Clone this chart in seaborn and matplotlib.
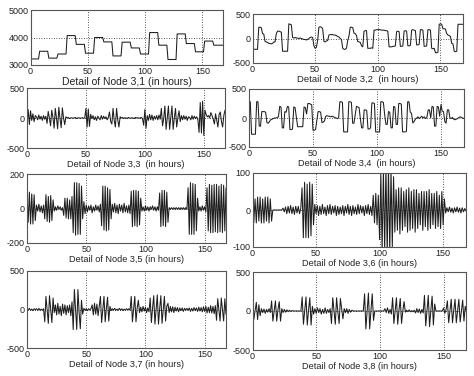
import numpy as np
import pandas as pd
import matplotlib
matplotlib.use("Agg")
import matplotlib.pyplot as plt
import seaborn as sns

# ---------------- data (hourly values) ----------------
node31 = [3220] * 8 + [3500] * 8 + [3250] * 8 + [3400] * 8 + [4070] * 8 + [3750] * 8 + \
         [3430] * 8 + [4000] * 8 + [3840] * 8 + [3330] * 8 + [3830] * 8 + [3620] * 8 + \
         [3400] * 8 + [4180] * 8 + [3720] * 8 + [3200] * 8 + [4130] * 8 + [3780] * 8 + \
         [3480] * 8 + [3870] * 8 + [3720] * 9

node32 = [-220, -220, -220, -220, -220, 230, 230, 220, 100, 90,
          -60, -70, -80, -100, -100, -110, -100, -70, -70,
          100, 150, 150, 140, 130, -260, -260, -260, -260, -260,
          300, 290, 280, 20, 10, 20, 10, 10, 0, 10, 0, -10, -20,
          -20, -30, -20, 0, 20, 30, 20, -150, -200, -180, -40,
          230, 240, 230, 200, -60, -70, -50, -40,
          70, 80, 80, 80, 70, 70, 60, 40, 30, 0, -20,
          -200, -220, -220, -200, -40, 50, 230, 230, 220, 110, 100, 60,
          -60, -70, -80, -150, -170, 150, 160, 160,
          -200, -200, -200, -190, -200,
          170, 170, 180, 180, 180, 180, 170, 170, 170, 160, 160, 150,
          -170, -170, -170, -160, -160, -150, 140, 150, 140,
          -160, -160, -150, 150, 160, 150, -150, -150, -140,
          170, 180, 170, 160, -130, -130, -120, 180, 180, 170,
          -160, -160, -150, 180, 180, 170, -200, -210, -200,
          -290, -290, -280, 290, 300, 290, 200, 200, 190, 100,
          70, 60, 40, -100, -110, -260, -270, -260, 290, 290, 290, 290, 290]

node33 = [-120, 140, -110, 120, -40, 70, -60, 40, 20, -30, 50, -20, 30, -40, 40, -20, 30,
          -90, 110, 0, -130, 130, 10, -170, 160, 0, -180, 180, -10, -160, 170, 0, -110,
          20, 0, 10, -10, 0, 5, -5, 0, 10, -10, 0, 5, -5, 0, 5, -5, 0,
          160, -150, 150, -140, 60, -10,
          40, -30, 20, -40, 30, 0, -30, 40, -20, 30, -10, 20, -30, 10,
          100, -60, -100, 160, -40, -150, 160, -30, -150, 20,
          0, 10, -10, 5, 0, -10, 10, 0, -5, 5, 0, -10, 10, 0, 5, -5, 0, 10, -10,
          -120, 140, -170, 40,
          -40, 60, -30, 50, -40, 30, -20, 40, -30, 50, -20,
          160, -130, -10, 200, -190, 0, 200, -190, 10, 200, -190, 0, 160, -150, 0, 120, -60, 40,
          -30, 40, -20, 30, -40, 20, 10, -30, 40, -20, 30, -10, 20, -30,
          -240, 260, -250, 280, -290, 130,
          60, 20, 40,
          0, 90, 40, -20, -100, 70, -40, -150, 60, 100, -60, -150, 40, 130]

node34 = [280, 280, -280, -280, -280, -280, 280, 280, -140, -140,
          110, 110, 110, 100, -80, -90, -60, -30, -20, -10,
          0, 0, 10, 20, 200, 190, -170, -170, 110, 100,
          200, 190, -200, -200, -190, 190, 180, 20, -150, -150,
          -150, -150, -150, 190, 180, 70, 250, 250, 240, 230,
          -210, -210, -200, -50, 110, 110, 100, -80, -70, -50,
          30, 40, 30, 30, 20, 30, 20, 10, 0, -10,
          0, 280, 280, 270, -240, -240, -240, -240, 280, 280,
          270, -90, -90, 60, 200, 190, 180, -10, -170, -170,
          140, 140, 130, -190, -190, -170, 260, 260, 250, -240,
          -240, -240, -240, 280, 280, 270, 60, -110, -110, 110,
          100, -170, -170, 200, 190, -110, -110, 250, 250, 240,
          -240, -240, -240, -230, 280, 280, 100, 80, -85, -60,
          -20, 0, 20, -10, 10, 30, 0, 20, -10, 10,
          140, 140, 0, 200, 190, -140, -140, 200, 190, 30,
          230, 120, 110, -60, -90, 140, 140, 0, -10, 10,
          -20, -30, -20, -10, 10, 20, 10, 0, -10]

node35 = [90, -80, 95, -90, 85, -90, 80, -70,
          20, -15, 25, -20, 15, -25, 20,
          -60, 80, -75, 70, -80, 75, -70, 50,
          -15, 10, -10, 15, -5, 10, -10, 5,
          -40, 60, -55, 60, -60, 50, -60, 70,
          -140, 150, -155, 150, -150, 145, -150, 130,
          -60, 40, -30, 20,
          -20, 15, -10, 20, -25, 10, -15, 20, -10, 15, -20, 25,
          -100, 130, -125, 130, -130, 120, -125, 110, -60,
          25, -20, 30, -25, 20, -30, 25, -15, 20, -25, 30, -20, 15, -25, 20, -30,
          100, -105, 105, -100, 105, -105, 100, -95, 60,
          -15, 10, -15, 15, -10, 10, -15, 10, -5, 15, -10, 10, -15, 10, -10,
          90, -105, 105, -100, 105, -105, 95, -80,
          5, -5, 5, -5, 5, -5, 5, -5, 5, -5, 5, -5, 5, -5, 5, -5,
          120, -150, 150, -150, 145, -150, 140, -130, 60,
          -15, 10, -15, 15, -10, 10, -20,
          120, -130, 140, -140, 135, -140, 140, -135, 140, -140, 130, -135, 140, -140, 135, -130, 120]

node36 = [35, -35, 30, -35, 35, -30, 35, -35, 30, -35, 35, -30, 35, -35, 30, -30,
          0, 0, 0, 0, 0, 0, 0, 0,
          5, -5, 8, -10, 10, -8, 12, -10, 8, -12, 10, -8, 10, -10, 5,
          60, -75, 75, -75, 70, -75, 75, -70, 70, -40,
          15, -10, 12, -15, 10, -12, 15, -10, 8, -15,
          12, -10, 15, -12, 10, -8, 12, -15, 10, -12,
          8, -10, 12, -15, 10, -8, 15, -12, 10, -15,
          12, -10, 8, -12, 15, -10, 12, -8, 10, -15,
          12, -10, 15, -12, 10, -15,
          40, -35, 45, -40, 40,
          -80, 95, -110, 110, -110, 120, -120, 115, -115, 110, -100, 90,
          -60, 55, -55, 60, -65, 60, -55, 50, -45, 55,
          -60, 60, -55, 50, -50, 55, -60, 55, -50, 45,
          -40, 50, -55, 50, -45, 50, -55, 55, -50, 45,
          -40, 45, -50, 50, -45, 40,
          -50, 50, -40, 30,
          -8, 6, -5, 8, -6, 5, -8, 6, -5, 8, -6, 5, -8, 6, -5, 4, -3]

node37 = [10, -10, 15, -10, 5, -15, 10, -5, 10, -10, 15, -10, 5, -10, 10,
          -160, 170, 0, -180, 180, 0, -170, 150, -40,
          60, -70, 80, -60, 40, -80, 70, -50, 60, -70, 50, -40, 60, -80,
          100, -260, 260, 0, -260, 260, -40, -250, 120, -60,
          15, -10, 10, -15, 10, -5, 10,
          60, -70, 80, -60, 70, -80, 50,
          170, -170, 0, 170, -160, 10, 160, -150, 40,
          -15, 10, -10, 15, -10, 5, -10, 15, -10, 10, -15, 5, -10, 10, -5, 10, -10,
          170, -160, 0, 170, -160, 20, 120,
          -40, 30, -30, 40, -20, 30, -40, 20, -30,
          150, -170, 20, 180, -190, 0, 190, -190, 10, 180, -180, 0, 170, -150, 40, 80,
          -40, 40, -30, 35, -40, 30, -20, 25, -30, 20, -15, 20, -25, 15, -10, 15, -10,
          20, -25, 15, -20, 25, -15, 20, -25, 30, -20, 25, -30, 35, -25, 40, -45, 30, -40,
          50, -45, 40, -55, 50,
          -140, 140, 0, -150, 150, 0, -150, 140, -60]

node38 = [110, -110, 0, 110, -110, 80, -60,
          30, -20, 25, -30, 20, -15, 30, -20,
          130, -130, 0, 130, -130, 20, 120, -130,
          30, -20, 20, -15, 15, -10, 10, -5, 5,
          0, 0, 0, 0, 0, 0, 0,
          180, -170, 0, 180, -180, 10, 170, -180, 60,
          -40, 30, -30, 40, -20, 30, -40, 20, -30, 40, -30, 20, -20, 30,
          -160, 170, 0, -170, 170, -10, -160, 160, 30, -100,
          30, -20, 30, -30, 20, -15, 10, 0,
          0, 0, 0, 0, 0, 0, 0, 0,
          220, -230, 0, 230, -230, 10, 220, -120,
          0, 0, 0, 0, 0, 0, 0, 0,
          30, -20, 40, -30, 20, -40,
          170, -160, 0, 170, -170, 10, 160, -160, 0, 120,
          -15, 10, -10, 15, -10, 5, -10, 10,
          -25, 30, -20, 25, -30, 20, -25,
          200, -190, 0, 200, -200, 10, 190, -180, 90,
          0, 0, 0, 0, 0, 0,
          40, -30, 20, 130, -150, 0, 150, -150, 10, 150, -150, 0, 150, -140, 0, 140, -130, 60, -20]

labels = ["Detail of Node 3,1 (in hours)", "Detail of Node 3,2  (in hours)",
          "Detail of Node 3,3  (in hours)", "Detail of Node 3,4  (in hours)",
          "Detail of Node 3,5 (in hours)", "Detail of Node 3,6 (in hours)",
          "Detail of Node 3,7 (in hours)", "Detail of Node 3,8 (in hours)"]
x_ticks = [0, 50, 100, 150]
y_ticks = [[3000, 4000, 5000], [-500, 0, 500], [-500, 0, 500], [-500, 0, 500],
           [-200, 0, 200], [-100, 0, 100], [-500, 0, 500], [-500, 0, 500]]
series = [node31, node32, node33, node34, node35, node36, node37, node38]

# ---------------- layout ----------------
sns.set_style("white")
plt.rcParams["font.family"] = ["Liberation Sans", "DejaVu Sans"]
plt.rcParams["axes.unicode_minus"] = False

W, H = 474, 376
fig = plt.figure(figsize=(W / 100, H / 100), dpi=100)

def rect(l, t, r, b):
    return [l / W, 1 - b / H, (r - l) / W, (b - t) / H]

rects = [(30.5, 10, 223, 65), (252.5, 14, 463, 63),
         (27, 88, 225, 148), (249, 89, 464, 147),
         (27, 174, 226, 243), (252.5, 173, 466, 247),
         (27, 271, 226, 348), (252.5, 272, 466.5, 350)]
label_sizes = [7.5, 6.8, 6.6, 6.6, 6.6, 6.6, 6.6, 6.6]

for i in range(8):
    ax = fig.add_axes(rect(*rects[i]))
    vals = series[i]
    df = pd.DataFrame({"hour": np.arange(len(vals)), "value": vals})
    sns.lineplot(data=df, x="hour", y="value", ax=ax, color="#1e1e1e",
                 linewidth=0.75, estimator=None)
    yt = y_ticks[i]
    ax.set_xlim(0, 168)
    ax.set_ylim(yt[0], yt[-1])
    ax.set_xticks(x_ticks)
    ax.set_yticks(yt)
    ax.set_xticklabels([str(v) for v in x_ticks])
    ax.set_yticklabels([str(v) for v in yt])
    ax.tick_params(axis="both", direction="in", length=2, width=0.6,
                   labelsize=6.5, pad=1.5, colors="#333333", labelcolor="#222222")
    ax.grid(True, linestyle=(0, (1, 2)), color="#222222", linewidth=0.6)
    for s in ax.spines.values():
        s.set_color("#555555")
        s.set_linewidth(0.8)
    ax.set_xlabel(labels[i], fontsize=label_sizes[i], labelpad=0.5, color="#222222")
    ax.set_ylabel("")

fig.savefig("out.png", dpi=100, facecolor="white")
